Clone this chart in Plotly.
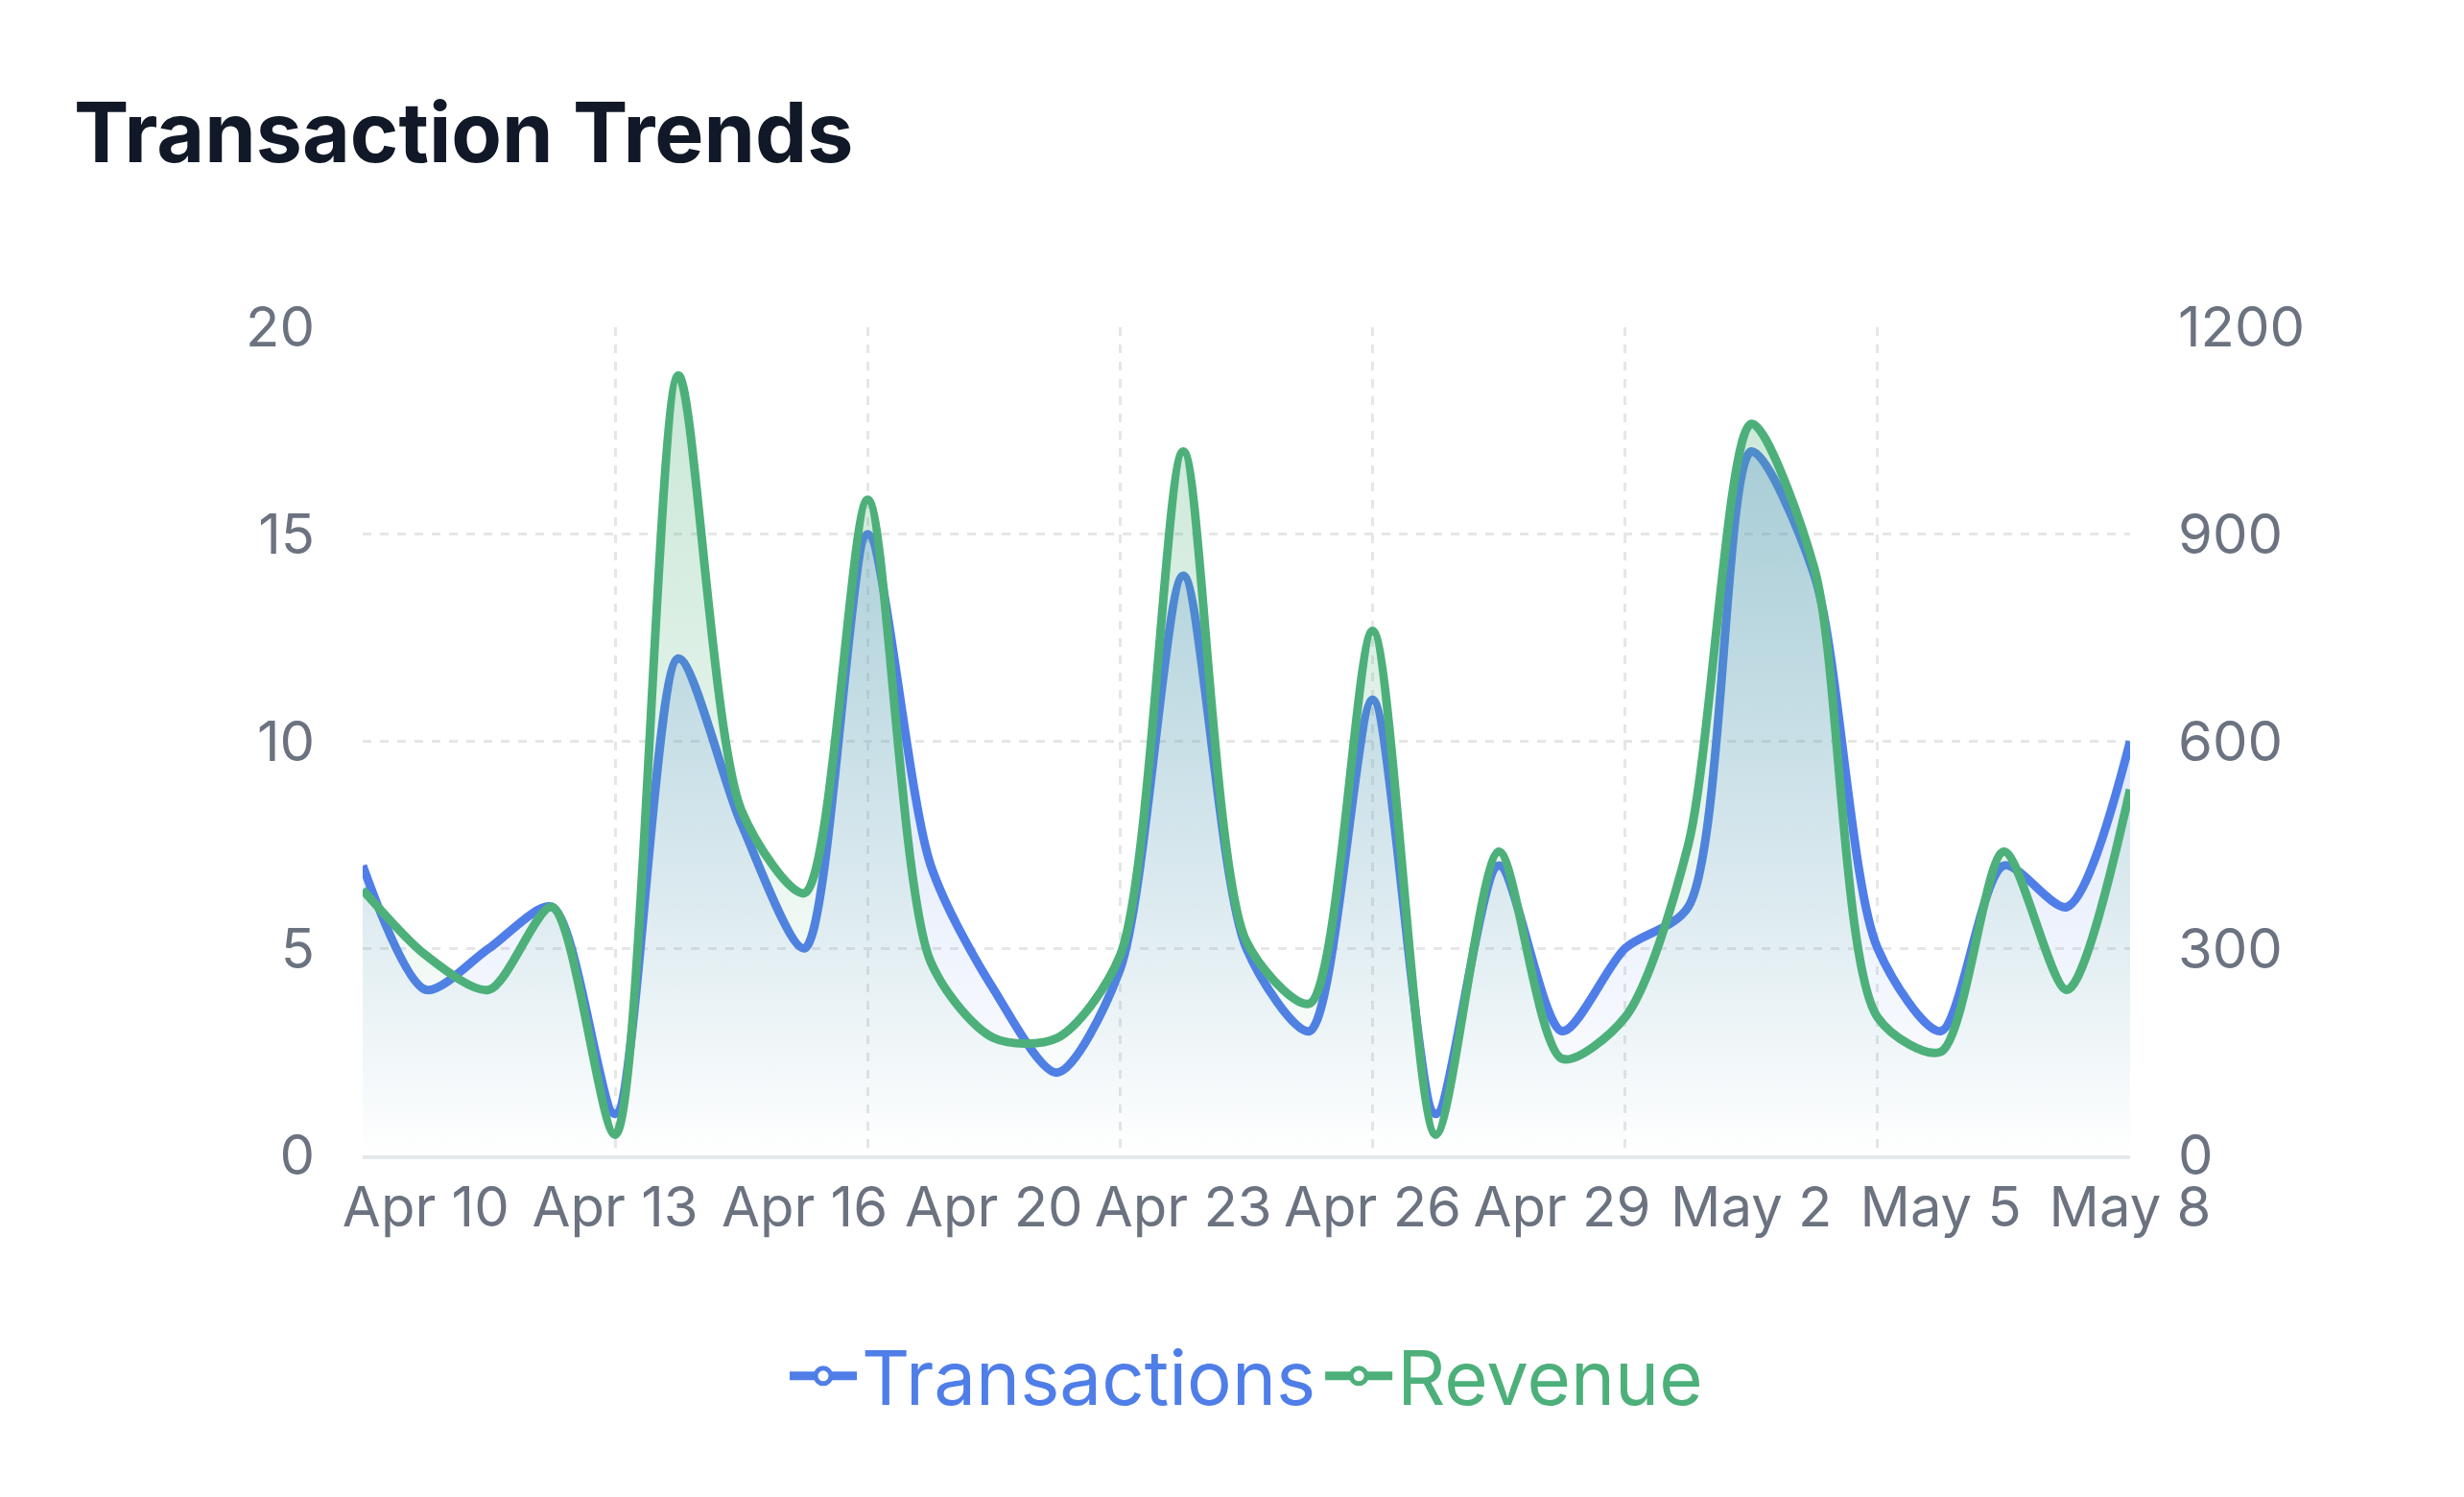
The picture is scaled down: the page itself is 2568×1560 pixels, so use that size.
import plotly.graph_objects as go

dates = ["Apr 9", "Apr 10", "Apr 11", "Apr 12", "Apr 13", "Apr 14", "Apr 15", "Apr 16",
         "Apr 18", "Apr 19", "Apr 20", "Apr 21", "Apr 22", "Apr 23", "Apr 24", "Apr 25",
         "Apr 26", "Apr 27", "Apr 28", "Apr 29", "Apr 30", "May 1", "May 2", "May 3",
         "May 4", "May 5", "May 6", "May 7", "May 8"]
transactions = [7, 4, 5, 6, 1, 12, 8, 5, 15, 7, 4, 2, 4.5, 14, 5, 3, 11, 1, 7, 3, 5, 6, 17, 14, 5, 3, 7, 6, 10]
revenue = [385, 290, 240, 360, 30, 1130, 500, 380, 950, 280, 170, 170, 290, 1020, 310, 220, 760, 30,
           440, 140, 200, 450, 1060, 850, 200, 150, 440, 240, 530]

label_idx = list(range(1, len(dates), 3))
grid_idx = list(range(0, len(dates), 4))
idx = list(range(len(dates)))

blue = "#4f7ee8"
green = "#4db07a"

fig = go.Figure()
fig.add_trace(go.Scatter(
    x=idx, y=transactions, name="Transactions", mode="lines", showlegend=False,
    line=dict(color=blue, width=9, shape="spline", smoothing=0.8),
    fill="tozeroy",
    fillgradient=dict(type="vertical", colorscale=[[0, "rgba(79,126,232,0.0)"], [1, "rgba(79,126,232,0.3)"]]),
))
fig.add_trace(go.Scatter(
    x=idx, y=revenue, name="Revenue", mode="lines", yaxis="y2", showlegend=False,
    line=dict(color=green, width=9, shape="spline", smoothing=0.8),
    fill="tozeroy",
    fillgradient=dict(type="vertical", colorscale=[[0, "rgba(77,176,122,0.0)"], [1, "rgba(77,176,122,0.3)"]]),
))
# legend entries with coloured labels
for name, col in [("Transactions", blue), ("Revenue", green)]:
    fig.add_trace(go.Scatter(
        x=[None], y=[None], mode="lines+markers",
        name=f"<span style='color:{col}'>{name}</span>",
        line=dict(color=col, width=9),
        marker=dict(symbol="circle", size=18, color="white", line=dict(color=col, width=6)),
    ))
# dummy trace to carry the secondary vertical grid
fig.add_trace(go.Scatter(x=[0], y=[0], xaxis="x2", showlegend=False, hoverinfo="skip",
                         mode="markers", marker=dict(opacity=0)))

tickfont = dict(family="Inter", size=58, color="#6b7280")
fig.update_layout(
    title=dict(text="<b>Transaction Trends</b>", x=0.027, y=0.915, xanchor="left", yanchor="middle",
               font=dict(family="Inter", size=86, color="#111827", weight=600)),
    plot_bgcolor="white", paper_bgcolor="white",
    margin=dict(l=370, r=340, t=333, b=348),
    xaxis=dict(range=[0, len(dates) - 1], tickvals=label_idx, ticktext=[dates[i] for i in label_idx],
               showgrid=False, zeroline=False, tickfont=tickfont, ticks="", ticklen=0,
               showline=True, linecolor="#e5e7eb", linewidth=4),
    xaxis2=dict(range=[0, len(dates) - 1], overlaying="x", tickvals=grid_idx, showticklabels=False,
                showgrid=True, gridcolor="#e6e6e6", griddash="dash", gridwidth=3, zeroline=False),
    yaxis=dict(range=[0, 20], dtick=5, tickfont=tickfont, gridcolor="#e6e6e6", griddash="dash",
               gridwidth=3, zeroline=False, ticksuffix="   "),
    yaxis2=dict(range=[0, 1200], dtick=300, overlaying="y", side="right", tickfont=tickfont,
                showgrid=False, zeroline=False, tickprefix="   "),
    legend=dict(orientation="h", x=0.5, xanchor="center", y=-0.2, yanchor="top",
                font=dict(family="Inter", size=78), itemwidth=70, tracegroupgap=40),
    showlegend=True,
)
fig.write_html("out.html")
